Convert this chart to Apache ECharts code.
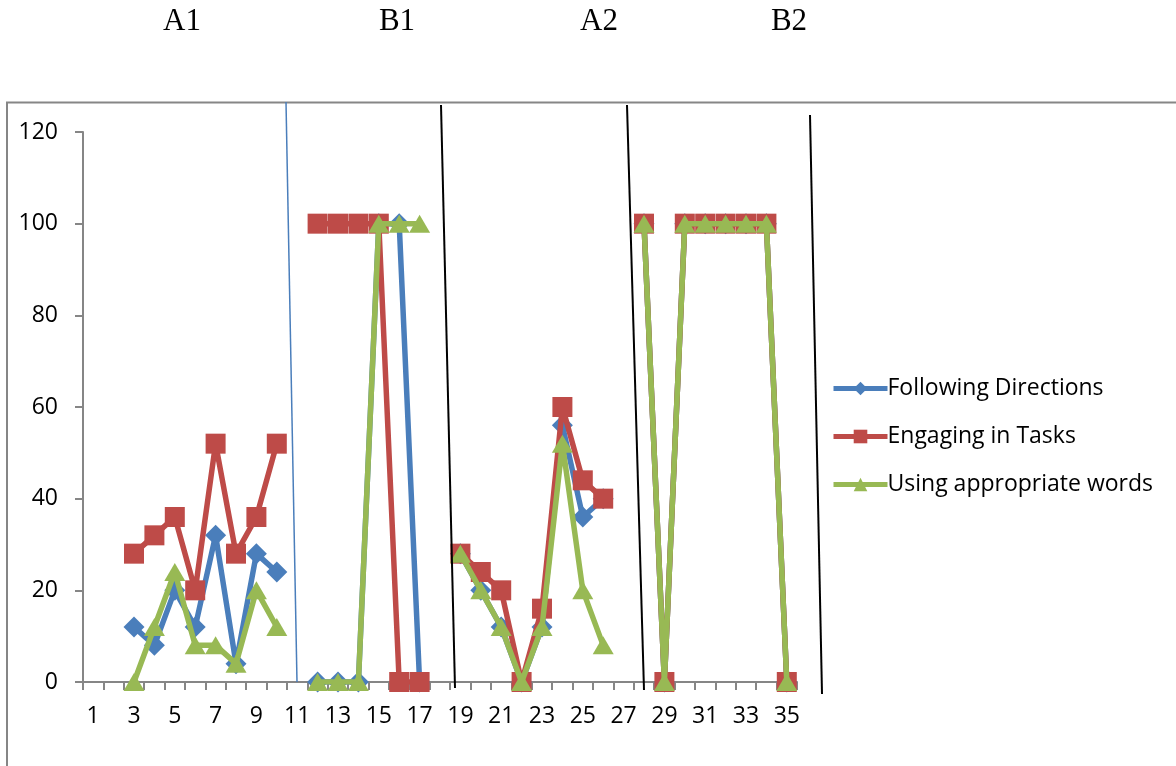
<!DOCTYPE html>
<html>
<head>
<meta charset="utf-8">
<script src="https://cdn.jsdelivr.net/npm/echarts@6/dist/echarts.min.js"></script>
<style>
html,body{margin:0;padding:0;background:#fff;}
#chart{width:1176px;height:766px;}
</style>
</head>
<body>
<div id="chart"></div>
<script>
// Sessions 1..35
const categories = Array.from({length: 35}, (_, i) => String(i + 1));
const phaseLabels = ['A1', 'B1', 'A2', 'B2'];
const seriesNames = ['Following Directions', 'Engaging in Tasks', 'Using appropriate words'];
const yTicks = [0, 20, 40, 60, 80, 100, 120];

const followingDirections = [
  null, null, 12, 8, 20, 12, 32, 4, 28, 24,
  null, 0, 0, 0, 100, 100, 0, null,
  28, 20, 12, 0, 12, 56, 36, 40, null,
  100, 0, 100, 100, 100, 100, 100, 0
];
const engagingInTasks = [
  null, null, 28, 32, 36, 20, 52, 28, 36, 52,
  null, 100, 100, 100, 100, 0, 0, null,
  28, 24, 20, 0, 16, 60, 44, 40, null,
  100, 0, 100, 100, 100, 100, 100, 0
];
const usingWords = [
  null, null, 0, 12, 24, 8, 8, 4, 20, 12,
  null, 0, 0, 0, 100, 100, 100, null,
  28, 20, 12, 0, 12, 52, 20, 8, null,
  100, 0, 100, 100, 100, 100, 100, 0
];

const FONT = '"Open Sans", "Liberation Sans", sans-serif';
const colors = ['#4a7ebb', '#be4b48', '#98b954'];
const symbols = ['diamond', 'rect', 'triangle'];
const symbolSizes = [[21, 21], [20, 20], [21, 18]];
const dataSets = [followingDirections, engagingInTasks, usingWords];

const chart = echarts.init(document.getElementById('chart'), null, {renderer: 'canvas'});

const titleX = [182, 397, 599, 789];

chart.setOption({
  animation: false,
  backgroundColor: '#ffffff',
  grid: {left: 83, right: 379, top: 132, bottom: 84, containLabel: false},
  legend: {
    orient: 'vertical',
    left: 826,
    top: 372,
    itemGap: 25,
    itemWidth: 54,
    itemHeight: 17,
    lineStyle: {width: 5},
    textStyle: {fontFamily: FONT, fontSize: 23, color: '#000', padding: [0, 0, 0, -5]},
    data: seriesNames
  },
  xAxis: {
    type: 'category',
    data: categories,
    boundaryGap: true,
    axisLine: {show: true, lineStyle: {color: '#868686', width: 2}},
    axisTick: {show: true, interval: 0, length: 8, inside: false, lineStyle: {color: '#868686', width: 2}},
    axisLabel: {interval: 1, margin: 23, fontFamily: FONT, fontSize: 23, color: '#000'},
    splitLine: {show: false}
  },
  yAxis: {
    type: 'value',
    min: 0,
    max: 120,
    interval: 20,
    axisLine: {show: true, lineStyle: {color: '#868686', width: 2}},
    axisTick: {show: true, length: 8, lineStyle: {color: '#868686', width: 2}},
    axisLabel: {margin: 25, fontFamily: FONT, fontSize: 23, color: '#000'},
    splitLine: {show: false}
  },
  series: seriesNames.map((name, i) => ({
    name: name,
    type: 'line',
    data: dataSets[i],
    connectNulls: false,
    symbol: symbols[i],
    symbolSize: symbolSizes[i],
    showAllSymbol: true,
    lineStyle: {color: colors[i], width: 5.5},
    itemStyle: {color: colors[i], borderWidth: 0},
    z: 2 + i
  })),
  graphic: [
    // outer chart border
    {type: 'polyline', shape: {points: [[7, 766], [7, 102.5], [1176, 102.5]]},
     style: {stroke: '#868686', lineWidth: 2, fill: null}, silent: true},
    // phase change lines
    {type: 'line', shape: {x1: 286, y1: 102, x2: 297, y2: 682},
     style: {stroke: '#4a7ebb', lineWidth: 1.5}, silent: true, z: 10},
    {type: 'line', shape: {x1: 441, y1: 105, x2: 455, y2: 688},
     style: {stroke: '#000', lineWidth: 2}, silent: true, z: 10},
    {type: 'line', shape: {x1: 627, y1: 105, x2: 644, y2: 690},
     style: {stroke: '#000', lineWidth: 2}, silent: true, z: 10},
    {type: 'line', shape: {x1: 810, y1: 115, x2: 822, y2: 694},
     style: {stroke: '#000', lineWidth: 2}, silent: true, z: 10}
  ].concat(phaseLabels.map((t, i) => ({
    type: 'text',
    x: titleX[i],
    y: 22,
    style: {text: t, fontFamily: '"Liberation Serif", "Times New Roman", serif', fontSize: 31,
            fill: '#000', align: 'center', verticalAlign: 'middle'},
    silent: true
  })))
});
</script>
</body>
</html>
